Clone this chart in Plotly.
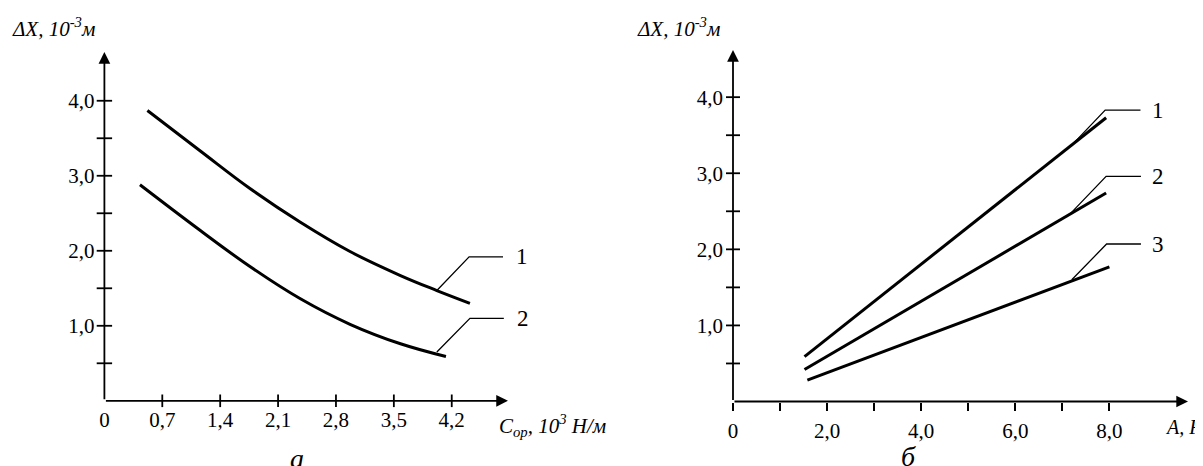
import plotly.graph_objects as go

# ---------------- data: panel a ----------------
a_curve1_x = [0.52, 1.16, 1.76, 2.37, 2.97, 3.58, 4.02, 4.42]
a_curve1_y = [3.87, 3.33, 2.83, 2.38, 1.99, 1.67, 1.47, 1.30]
a_curve2_x = [0.43, 1.16, 1.76, 2.37, 2.97, 3.58, 4.13]
a_curve2_y = [2.88, 2.27, 1.79, 1.36, 1.02, 0.76, 0.59]
a_lead1_x = [4.02, 4.41, 4.82]
a_lead1_y = [1.47, 1.92, 1.92]
a_lead2_x = [4.02, 4.42, 4.83]
a_lead2_y = [0.65, 1.10, 1.10]
a_labels = ["1", "2"]
a_xticks = [0, 0.7, 1.4, 2.1, 2.8, 3.5, 4.2]
a_xticktext = ["0", "0,7", "1,4", "2,1", "2,8", "3,5", "4,2"]
a_yminor = [0.5, 1.0, 1.5, 2.0, 2.5, 3.0, 3.5, 4.0]

# ---------------- data: panel б ----------------
b_line1_x = [1.52, 7.93]
b_line1_y = [0.59, 3.73]
b_line2_x = [1.52, 7.93]
b_line2_y = [0.42, 2.74]
b_line3_x = [1.58, 8.00]
b_line3_y = [0.28, 1.77]
b_lead1_x = [7.17, 7.91, 8.66]
b_lead1_y = [3.35, 3.83, 3.83]
b_lead2_x = [7.17, 7.93, 8.67]
b_lead2_y = [2.47, 2.96, 2.96]
b_lead3_x = [7.20, 7.94, 8.67]
b_lead3_y = [1.60, 2.07, 2.07]
b_labels = ["1", "2", "3"]
b_xticks = [0, 1, 2, 3, 4, 5, 6, 7, 8]
b_xticktext = ["0", "", "2,0", "", "4,0", "", "6,0", "", "8,0"]
b_yminor = [0.5, 1.0, 1.5, 2.0, 2.5, 3.0, 3.5, 4.0]

y_ticks = [1, 2, 3, 4]
y_ticktext = ["1,0", "2,0", "3,0", "4,0"]

# page is drawn with an 8px body margin -> figure occupies (8..1203, 8..466)
OFF = 8
W, H = 1203 - OFF, 466 - OFF
FONT = "Liberation Serif"

def PX(px):
    return (px - OFF) / W

def PY(py):
    return 1 - (py - OFF) / H

A_XARROW, A_YARROW = 4.88, 4.65
A_XMAX = 5.4
A_XSCALE = 82.7
B_XARROW, B_YARROW = 9.67, 4.62

fig = go.Figure()

def line(x, y, xa, ya, w):
    fig.add_trace(go.Scatter(x=x, y=y, xaxis=xa, yaxis=ya, mode="lines",
                             line=dict(color="black", width=w, shape="spline", smoothing=1.1),
                             cliponaxis=False, hoverinfo="skip", showlegend=False))

def leader(x, y, xa, ya):
    fig.add_trace(go.Scatter(x=x, y=y, xaxis=xa, yaxis=ya, mode="lines",
                             line=dict(color="black", width=1.3),
                             cliponaxis=False, hoverinfo="skip", showlegend=False))

def tickmarks(x, y, xa, ya, sym, size):
    fig.add_trace(go.Scatter(x=x, y=y, xaxis=xa, yaxis=ya, mode="markers",
                             marker=dict(symbol=sym, size=size, color="black",
                                         line=dict(color="black", width=1.8)),
                             cliponaxis=False, hoverinfo="skip", showlegend=False))

# panel a
line(a_curve1_x, a_curve1_y, "x", "y", 3)
line(a_curve2_x, a_curve2_y, "x", "y", 3)
leader(a_lead1_x, a_lead1_y, "x", "y")
leader(a_lead2_x, a_lead2_y, "x", "y")
tickmarks([0] * len(a_yminor), a_yminor, "x", "y", "line-ew", 11)
tickmarks(a_xticks[1:], [0] * (len(a_xticks) - 1), "x", "y", "line-ns", 9)

# panel б
line(b_line1_x, b_line1_y, "x2", "y2", 3)
line(b_line2_x, b_line2_y, "x2", "y2", 3)
line(b_line3_x, b_line3_y, "x2", "y2", 3)
leader(b_lead1_x, b_lead1_y, "x2", "y2")
leader(b_lead2_x, b_lead2_y, "x2", "y2")
leader(b_lead3_x, b_lead3_y, "x2", "y2")
tickmarks([0] * len(b_yminor), b_yminor, "x2", "y2", "line-ew", 10)

tickfont = dict(family=FONT, size=21, color="black")
common = dict(showgrid=False, zeroline=False, showline=False, fixedrange=True, automargin=False)

fig.update_layout(
    width=W, height=H, autosize=False, margin=dict(l=0, r=0, t=0, b=0, pad=0),
    paper_bgcolor="white", plot_bgcolor="rgba(0,0,0,0)",
    showlegend=False,
    xaxis=dict(domain=[PX(104.4), PX(104.4 + A_XMAX * A_XSCALE)], range=[0, A_XMAX], anchor="y",
               tickvals=a_xticks, ticktext=a_xticktext, ticks="", tickfont=tickfont,
               ticklabelstandoff=4, **common),
    yaxis=dict(domain=[PY(400.8), PY(52)], range=[0, A_YARROW], anchor="x",
               tickvals=y_ticks, ticktext=y_ticktext, ticks="", tickfont=tickfont,
               ticklabelstandoff=9, **common),
    xaxis2=dict(domain=[PX(733), PX(1188)], range=[0, B_XARROW], anchor="y2",
                tickvals=b_xticks, ticktext=b_xticktext, ticks="outside", ticklen=8,
                tickwidth=1.8, tickcolor="black", tickfont=tickfont,
                ticklabelstandoff=2, **common),
    yaxis2=dict(domain=[PY(401.5), PY(50)], range=[0, B_YARROW], anchor="x2",
                tickvals=y_ticks, ticktext=y_ticktext, ticks="", tickfont=tickfont,
                ticklabelstandoff=9, **common),
)

ann = []
# axis arrows
for xa, ya, xm, ym in [("x", "y", A_XARROW, A_YARROW), ("x2", "y2", B_XARROW, B_YARROW)]:
    ann.append(dict(x=xm, y=0, ax=0, ay=0, xref=xa, yref=ya, axref=xa, ayref=ya,
                    text="", showarrow=True, arrowhead=2, arrowsize=1.3, arrowwidth=1.8,
                    arrowcolor="black", standoff=0, startstandoff=0))
    ann.append(dict(x=0, y=ym, ax=0, ay=0, xref=xa, yref=ya, axref=xa, ayref=ya,
                    text="", showarrow=True, arrowhead=2, arrowsize=1.3, arrowwidth=1.8,
                    arrowcolor="black", standoff=0, startstandoff=0))

lab_font = dict(family=FONT, size=23, color="black")
for t, lx, ly in zip(a_labels, [a_lead1_x, a_lead2_x], [a_lead1_y, a_lead2_y]):
    ann.append(dict(x=lx[-1] + 0.13, y=ly[-1], xref="x", yref="y", text=t, showarrow=False,
                    xanchor="left", yanchor="middle", font=lab_font))
for t, lx, ly in zip(b_labels, [b_lead1_x, b_lead2_x, b_lead3_x], [b_lead1_y, b_lead2_y, b_lead3_y]):
    ann.append(dict(x=lx[-1] + 0.2, y=ly[-1], xref="x2", yref="y2", text=t, showarrow=False,
                    xanchor="left", yanchor="middle", font=lab_font))

title_font = dict(family=FONT, size=21, color="black")
ann.append(dict(x=PX(10), y=PY(27), xref="paper", yref="paper", xanchor="left",
                yanchor="middle", showarrow=False, font=title_font,
                text="<i>ΔX, 10<sup>-3</sup>м</i>"))
ann.append(dict(x=PX(635), y=PY(27), xref="paper", yref="paper", xanchor="left",
                yanchor="middle", showarrow=False, font=title_font,
                text="<i>ΔX, 10<sup>-3</sup>м</i>"))
ann.append(dict(x=PX(497), y=PY(425), xref="paper", yref="paper", xanchor="left",
                yanchor="middle", showarrow=False, font=dict(family=FONT, size=21, color="black"),
                text="<i>C<sub>ор</sub>, 10<sup>3</sup> Н/м</i>"))
ann.append(dict(x=PX(1163), y=PY(427), xref="paper", yref="paper", xanchor="left",
                yanchor="middle", showarrow=False, font=dict(family=FONT, size=20, color="black"),
                text="<i>A, F</i>"))
ann.append(dict(x=PX(297), y=PY(458), xref="paper", yref="paper", xanchor="center",
                yanchor="middle", showarrow=False, font=dict(family=FONT, size=28, color="black"),
                text="<i>а</i>"))
ann.append(dict(x=PX(908), y=PY(456), xref="paper", yref="paper", xanchor="center",
                yanchor="middle", showarrow=False, font=dict(family=FONT, size=28, color="black"),
                text="<i>б</i>"))

fig.update_layout(annotations=ann)
fig.write_html("out.html")
